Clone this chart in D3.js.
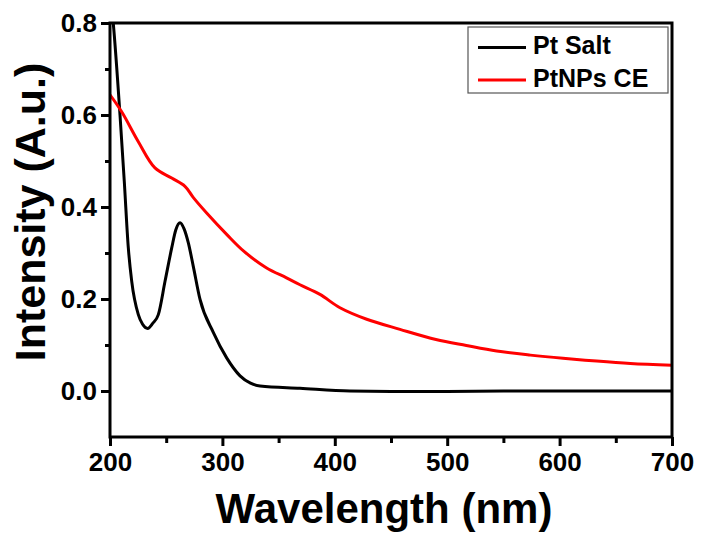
<!DOCTYPE html>
<html><head><meta charset="utf-8">
<script src="https://cdn.jsdelivr.net/npm/d3@7"></script>
<style>
body{margin:0;background:#fff;}
text{font-family:"Liberation Sans",Arial,sans-serif;font-weight:bold;}
</style></head>
<body><svg id="c" width="703" height="539"></svg>
<script>
const saltWl  = [200,202.9,208.9,212.7,216.3,219.3,225.2,229,233.5,238,243,249,254.9,258.5,262.3,266,269.7,274.1,280.1,292,303.8,315.7,325,333.5,369,413.5,450,500,550,600,650,700];
const saltVal = [0.87,0.80,0.600,0.456,0.311,0.239,0.166,0.145,0.136,0.147,0.166,0.239,0.311,0.350,0.366,0.352,0.322,0.271,0.199,0.127,0.072,0.033,0.017,0.011,0.006,0.0,-0.001,-0.001,0.0,0.0,0.0,0.0];
const npWl  = [200,210.4,225.2,240,254.9,266.7,274,286,304,319,339,357,369,386.8,404.6,428.4,458,490,517,544,574,603,633,663,700];
const npVal = [0.644,0.607,0.542,0.485,0.463,0.445,0.421,0.387,0.340,0.304,0.268,0.246,0.231,0.210,0.181,0.156,0.134,0.112,0.099,0.087,0.078,0.071,0.065,0.060,0.056];
const xTicks = [200,300,400,500,600,700];
const xMinor = [250,350,450,550,650];
const yTicks = [0.0,0.2,0.4,0.6,0.8];
const yMinor = [0.1,0.3,0.5,0.7];
const seriesNames = ["Pt Salt","PtNPs CE"];
const seriesColors = ["#000000","#ff0000"];

const L=110,R=672,T=23,B=437;
const svg=d3.select("#c");
const x=d3.scaleLinear().domain([200,700]).range([L,R]);
const y=d3.scaleLinear().domain([-0.1,0.8]).range([B,T]);

svg.append("defs").append("clipPath").attr("id","clip").append("rect")
  .attr("x",L).attr("y",T).attr("width",R-L).attr("height",B-T);

const curves=[d3.curveMonotoneX, d3.curveCatmullRom.alpha(0.5)];
const series=[d3.zip(saltWl,saltVal), d3.zip(npWl,npVal)];
const g=svg.append("g").attr("clip-path","url(#clip)");
series.forEach((s,i)=>{
  const line=d3.line().x(d=>x(d[0])).y(d=>y(d[1])).curve(curves[i]);
  g.append("path").datum(s).attr("d",line).attr("fill","none")
   .attr("stroke",seriesColors[i]).attr("stroke-width",3).attr("stroke-linejoin","round");
});

// axes
const xa=svg.append("g").attr("transform",`translate(0,${B})`)
  .call(d3.axisBottom(x).tickValues(xTicks).tickSize(9).tickPadding(7).tickFormat(d3.format("d")));
const xm=svg.append("g").attr("transform",`translate(0,${B})`)
  .call(d3.axisBottom(x).tickValues(xMinor).tickSize(6).tickFormat(""));
const ya=svg.append("g").attr("transform",`translate(${L},0)`)
  .call(d3.axisLeft(y).tickValues(yTicks).tickSize(9).tickPadding(4).tickFormat(d3.format(".1f")));
const ym=svg.append("g").attr("transform",`translate(${L},0)`)
  .call(d3.axisLeft(y).tickValues(yMinor).tickSize(5).tickFormat(""));
[xa,xm,ya,ym].forEach(a=>{
  a.select(".domain").remove();
  a.selectAll(".tick line").attr("stroke","#000").attr("stroke-width",3);
  a.selectAll(".tick text").attr("fill","#000").style("font-size","26px")
   .style("font-family","'Liberation Sans',Arial,sans-serif").style("font-weight","bold");
});

svg.append("rect").attr("x",L).attr("y",T).attr("width",R-L).attr("height",B-T)
  .attr("fill","none").attr("stroke","#000").attr("stroke-width",3);

// titles
svg.append("text").attr("x",384).attr("y",523).attr("text-anchor","middle")
  .style("font-size","42px").text("Wavelength (nm)");
svg.append("text").attr("transform","translate(45,212) rotate(-90)").attr("text-anchor","middle")
  .style("font-size","43px").text("Intensity (A.u.)");

// legend
const lg=svg.append("g");
lg.append("rect").attr("x",468).attr("y",27).attr("width",200).attr("height",66)
  .attr("fill","#fff").attr("stroke","#555").attr("stroke-width",1.2);
seriesNames.forEach((n,i)=>{
  const yy=47.5+i*32.5;
  lg.append("line").attr("x1",478).attr("x2",526).attr("y1",yy).attr("y2",yy)
    .attr("stroke",seriesColors[i]).attr("stroke-width",3);
  lg.append("text").attr("x",533).attr("y",yy+6.5).style("font-size","25px").text(n);
});
</script></body></html>
